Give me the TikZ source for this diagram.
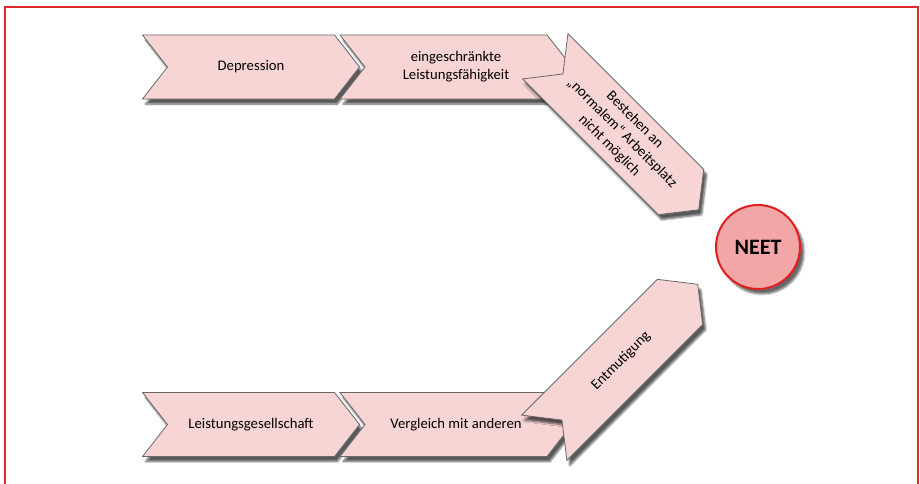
\documentclass[tikz,border=0pt]{standalone}
\usepackage{fontspec}
\setmainfont{Carlito}
\usetikzlibrary{shapes.symbols,shadows.blur}
\definecolor{chevronfill}{RGB}{248,213,213}
\definecolor{chevronline}{RGB}{105,105,105}
\definecolor{neetfill}{RGB}{242,166,166}
\definecolor{neetline}{RGB}{224,32,32}
\definecolor{framered}{RGB}{226,44,44}
\tikzset{
  chevron/.style={signal,signal from=west,signal to=east,
    signal pointer angle=104,draw=chevronline,line width=0.8pt,
    fill=chevronfill,minimum height=64pt,minimum width=217pt,
    inner sep=2pt,align=center,font=\fontsize{14.7}{18}\selectfont,
    blur shadow={shadow xshift=3pt,shadow yshift=-5pt,
      shadow blur steps=6,shadow opacity=65}},
  goal/.style={circle,draw=neetline,line width=2pt,fill=neetfill,
    minimum size=84pt,font=\fontsize{22}{26}\selectfont\bfseries,
    blur shadow={shadow xshift=4pt,shadow yshift=-5pt,
      shadow blur steps=6,shadow opacity=60}},
}
\begin{document}
\begin{tikzpicture}[x=1pt,y=-1pt]
\useasboundingbox (0,0) rectangle (920,483);
\draw[framered,line width=1.6pt](5,490)--(5,7)--(918,7)--(918,490);
% upper row
\node[chevron] (depr) at (251,67) {Depression};
\node[chevron,minimum width=232pt] (leist) at (456,67)
  {eingeschränkte\\Leistungsfähigkeit};
\node[chevron,rotate=-45] (arbeit) at (622,133)
  {Bestehen an\\„normalem“ Arbeitsplatz\\nicht möglich};
% lower row
\node[chevron] (gesell) at (251,424.5) {Leistungsgesellschaft};
\node[chevron,minimum width=232pt] (vergl) at (456,424.5)
  {Vergleich mit anderen};
\node[chevron,rotate=45] (entmut) at (621,361) {Entmutigung};
% target
\node[goal] (neet) at (758,247) {NEET};
\end{tikzpicture}
\end{document}
